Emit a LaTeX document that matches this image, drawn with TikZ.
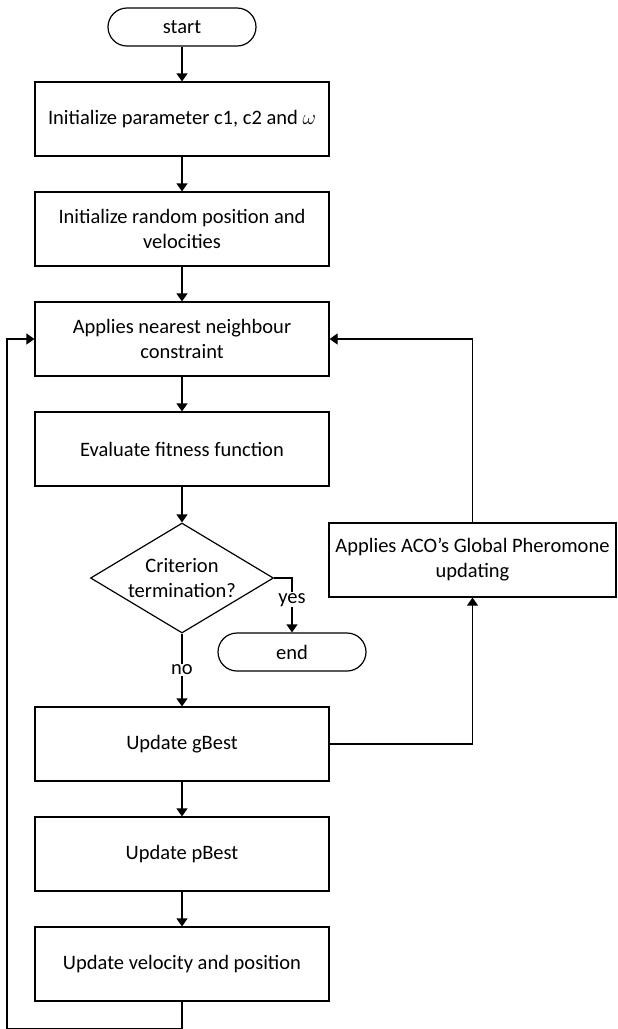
\documentclass[tikz,border=0pt]{standalone}
\usepackage{fontspec}
\setmainfont{Carlito}
\usepackage{tikz}
\usetikzlibrary{shapes.geometric, arrows.meta}
\tikzstyle{startstop} = [rectangle, rounded corners=19pt, minimum width=148pt, minimum height=38pt, text centered, draw=black, line width=1.2pt]
\tikzstyle{process} = [rectangle, minimum width=294pt, minimum height=74pt, align=center, draw=black, line width=1.2pt]
\tikzstyle{decision} = [diamond, aspect=1.66, inner sep=0pt, minimum width=183pt, minimum height=110pt, align=center, draw=black, line width=1.2pt]
\tikzstyle{arrow} = [line width=1.2pt,-{Triangle[width=11pt,length=8pt]}]
\begin{document}
\begin{tikzpicture}[node distance=110pt, x=1pt, y=1pt, font=\fontsize{20.5}{25}\selectfont]
    \useasboundingbox (0,0) rectangle (618,-1029);
    \node (start) [startstop] at (182,-27) {start};
    \node (init) [process, below of=start, node distance=92pt] {Initialize parameter c1, c2 and $\omega$};
    \node (random) [process, below of=init] {Initialize random position and\\velocities};
    \node (nearest) [process, below of=random] {Applies nearest neighbour\\constraint};
    \node (fitness) [process, below of=nearest] {Evaluate fitness function};
    \node (criterion) [decision, below of=fitness, node distance=129pt] {Criterion\\termination?};
    \node (gbest) [process, below of=criterion, node distance=166pt] {Update gBest};
    \node (pbest) [process, below of=gbest] {Update pBest};
    \node (velocity) [process, below of=pbest] {Update velocity and position};
    \node (stop) [startstop, right of=criterion, yshift=-74pt] {end};
    \node (aco) [process, minimum width=287pt, right of=criterion, xshift=180.5pt, yshift=18pt] {Applies ACO’s Global Pheromone\\updating};

    \draw [arrow] (start) -- (init);
    \draw [arrow] (init) -- (random);
    \draw [arrow] (random) -- (nearest);
    \draw [arrow] (nearest) -- (fitness);
    \draw [arrow] (fitness) -- (criterion);
    \draw [arrow] (criterion.east) -| node[fill=white, inner sep=1pt, pos=0.7] {yes} (stop.north);
    \draw [arrow] (criterion) -- node[fill=white, inner sep=1pt] {no} (gbest);
    \draw [arrow] (gbest) -- (pbest);
    \draw [arrow] (pbest) -- (velocity);

    % loops back to the constraint step
    \draw [arrow] (gbest.east) -| (aco.south);
    \draw [arrow] (aco.north) |- (nearest.east);
    \draw [arrow] (velocity.south) -- ++(0,-27) -- ++(-175,0) |- (nearest.west);

\end{tikzpicture}
\end{document}
